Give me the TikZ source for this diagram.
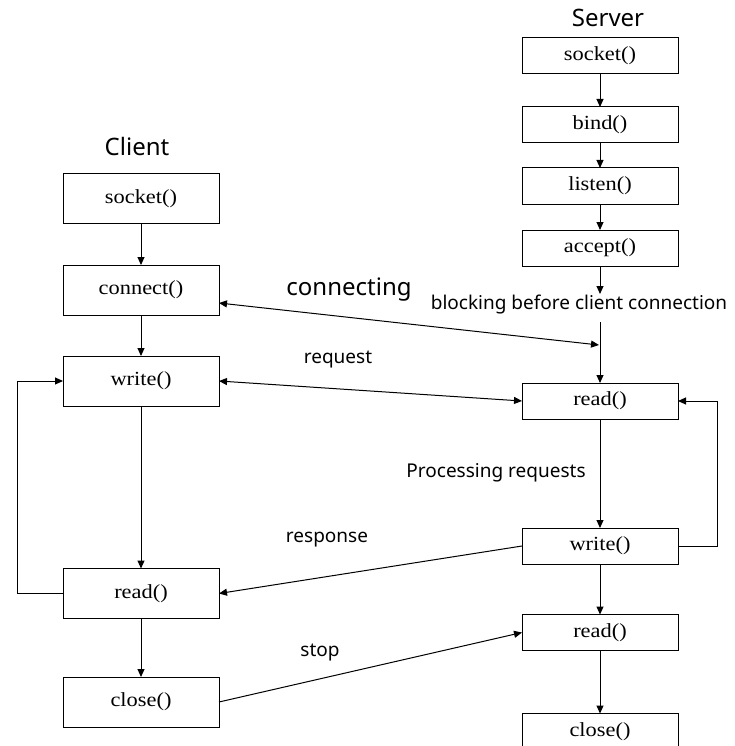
\documentclass[tikz,border=0pt]{standalone}
\usepackage{fontspec}
\setmainfont{Liberation Serif}
\newfontfamily\boxfont[FakeStretch=1.12]{Liberation Serif}
\newfontfamily\labfont{Noto Sans}
\usetikzlibrary{arrows.meta}
\begin{document}
\begin{tikzpicture}[x=1pt,y=-1pt,
  cbox/.style={draw,line width=1pt,minimum width=156pt,minimum height=50pt,inner sep=0pt,outer sep=0pt,font=\boxfont\fontsize{20}{22}\selectfont},
  sbox/.style={cbox,minimum height=36pt},
  lab/.style={inner sep=0pt,font=\labfont\fontsize{19}{22}\selectfont},
  head/.style={inner sep=0pt,font=\labfont\fontsize{24}{28}\selectfont},
  conn/.style={line width=1pt,-{Triangle[length=8pt,width=7pt]}},
  dconn/.style={line width=1pt,{Triangle[length=8pt,width=7pt]}-{Triangle[length=8pt,width=7pt]}},
  plain/.style={line width=1pt}]
\useasboundingbox (0,0) rectangle (734,746);
\clip (0,0) rectangle (734,746);
\fill[white] (0,0) rectangle (734,746);
% headings
\node[head] (hclient) at (137,147) {Client};
\node[head] (hserver) at (608,18) {Server};
% client boxes
\node[cbox] (csocket) at (141,198.5) {socket()};
\node[cbox] (cconnect) at (141,290) {connect()};
\node[cbox] (cwrite) at (141,381) {write()};
\node[cbox] (cread) at (141,593.5) {read()};
\node[cbox] (cclose) at (141,702) {close()};
% server boxes
\node[sbox] (ssocket) at (600,56) {socket()};
\node[sbox] (sbind) at (600,125) {bind()};
\node[sbox] (slisten) at (600,186) {listen()};
\node[sbox] (saccept) at (600,248) {accept()};
\node[sbox] (sread) at (600,401) {read()};
\node[sbox] (swrite) at (600,546) {write()};
\node[sbox] (sread2) at (600,632.5) {read()};
\node[sbox] (sclose) at (600,731.5) {close()};
% labels
\node[head] (lconnecting) at (349,290) {connecting};
\node[lab] (lblocking) at (579,305) {blocking before client connection};
\node[lab] (lrequest) at (338,360) {request};
\node[lab] (lprocessing) at (496,473) {Processing requests};
\node[lab] (lresponse) at (327,540) {response};
\node[lab] (lstop) at (320,653) {stop};
% coordinates
\coordinate (accend) at (600,294);
\coordinate (blkstart) at (600,322);
\coordinate (connend) at (600,345);
% client flow
\draw[conn] (csocket) -- (cconnect);
\draw[conn] (cconnect) -- (cwrite);
\draw[conn] (cwrite) -- (cread);
\draw[conn] (cread) -- (cclose);
\draw[conn] (cread.west) -- ++(-46,0) |- (cwrite.west);
% server flow
\draw[conn] (ssocket) -- (sbind);
\draw[conn] (sbind) -- (slisten);
\draw[conn] (slisten) -- (saccept);
\draw[conn] (saccept) -- (accend);
\draw[conn] (blkstart) -- (sread);
\draw[conn] (sread) -- (swrite);
\draw[conn] (swrite) -- (sread2);
\draw[conn] (sread2) -- (sclose);
\draw[conn] (swrite.east) -- ++(39,0) |- (sread.east);
% cross connectors
\draw[dconn] ([yshift=-13pt]cconnect.east) -- ([xshift=-1pt]connend);
\draw[dconn] (cwrite.east) -- (sread.west);
\draw[conn] (swrite.west) -- (cread.east);
\draw[conn] (cclose.east) -- (sread2.west);
\end{tikzpicture}
\end{document}
